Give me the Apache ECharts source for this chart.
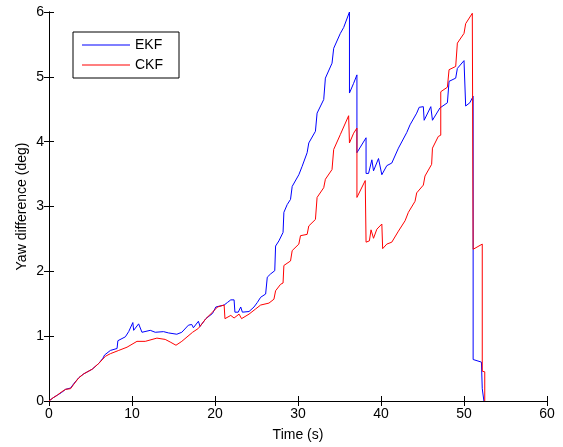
<!DOCTYPE html>
<html><head><meta charset="utf-8">
<script src="https://cdn.jsdelivr.net/npm/echarts@6/dist/echarts.min.js"></script>
<style>html,body{margin:0;padding:0;background:#fff}#c{width:563px;height:447px}</style>
</head><body><div id="c"></div>
<script>
const xTicks = [0, 10, 20, 30, 40, 50, 60];
const yTicks = [0, 1, 2, 3, 4, 5, 6];
const ekfTime = [0,0.5,1,1.5,2,2.6,3,3.6,4.2,5.2,6,6.5,6.7,7.4,8.2,8.3,9.2,9.6,10.1,10.2,10.3,10.8,11.0,11.2,12.2,12.8,13.8,14.4,15.4,16.0,16.8,17.2,17.4,18.0,18.2,18.9,19.7,20.1,21.1,21.5,21.9,22.3,22.4,22.8,23.1,23.3,24.1,24.7,25.1,25.5,26.1,26.3,26.7,27.2,27.3,27.7,28.2,28.3,28.7,29.1,29.3,30.1,30.5,31.1,31.3,32.1,32.3,33.1,33.3,34.1,34.3,35.1,35.5,36.2,36.2,36.7,37.1,37.1,38.2,38.2,38.5,38.9,39.1,39.7,40.1,40.7,41.3,42.1,43.1,43.5,44.3,44.6,45.1,45.2,46.0,46.2,47.1,48.0,48.2,49.0,49.2,50.0,50.2,50.7,51.1,51.1,52.1,52.2,52.2,52.4,52.4];
const ekfYaw = [0,0.05,0.09,0.13,0.18,0.2,0.27,0.36,0.42,0.49,0.58,0.66,0.71,0.78,0.81,0.93,0.99,1.07,1.21,1.09,1.10,1.19,1.20,1.06,1.09,1.06,1.07,1.05,1.03,1.06,1.17,1.18,1.13,1.23,1.15,1.27,1.35,1.45,1.48,1.52,1.56,1.56,1.37,1.37,1.45,1.37,1.38,1.45,1.52,1.60,1.65,1.91,1.96,2.01,2.39,2.47,2.60,2.91,3.03,3.11,3.31,3.49,3.62,3.83,3.98,4.16,4.44,4.65,4.98,5.21,5.44,5.67,5.76,6.0,4.75,4.90,5.03,3.83,4.06,3.51,3.51,3.72,3.55,3.74,3.49,3.63,3.67,3.90,4.14,4.26,4.44,4.53,4.54,4.33,4.54,4.33,4.52,4.60,4.93,4.98,5.13,5.25,4.55,4.60,4.70,0.64,0.60,0.60,0.19,0.19,0];
const ckfTime = [0,0.5,1,1.5,2,2.6,3,3.6,4.2,5.2,6.0,6.8,7.4,8.4,9.4,10.6,11.6,13.0,14.0,14.6,15.3,16.0,17.3,18.0,18.9,19.7,20.3,21.1,21.2,21.9,22.3,22.9,23.2,24.1,24.9,25.5,26.5,27.1,27.3,27.9,28.2,28.3,29.1,29.3,30.1,30.3,31.1,31.3,32.1,32.3,33.1,33.3,34.1,34.3,35.1,36.1,36.2,36.7,37.1,37.1,38.1,38.2,38.6,38.8,39.1,39.5,40.1,40.2,40.7,41.3,42.1,42.9,43.3,44.1,44.3,45.1,45.3,46.1,46.2,46.9,47.2,47.2,48.0,48.2,49.0,49.2,50.0,50.2,51.0,51.1,51.1,52.2,52.2,52.5,52.5];
const ckfYaw = [0,0.05,0.09,0.14,0.18,0.19,0.26,0.36,0.42,0.49,0.58,0.69,0.73,0.78,0.83,0.92,0.92,0.97,0.95,0.91,0.86,0.92,1.06,1.12,1.27,1.37,1.45,1.48,1.27,1.32,1.28,1.34,1.27,1.34,1.42,1.48,1.51,1.57,1.70,1.80,1.82,2.09,2.16,2.32,2.42,2.55,2.57,2.70,2.80,3.14,3.29,3.42,3.57,3.88,4.11,4.40,3.98,4.13,4.21,3.14,3.40,2.45,2.47,2.64,2.51,2.65,2.73,2.35,2.42,2.45,2.62,2.78,2.91,3.08,3.21,3.33,3.47,3.65,3.90,4.08,4.10,4.77,4.84,5.11,5.16,5.52,5.67,5.82,5.98,6.0,2.34,2.42,0.46,0.45,0];
const seriesNames = ['EKF', 'CKF'];

const font = 'Liberation Sans, Arial, Helvetica, sans-serif';
const zip = (a, b) => a.map((v, i) => [v, b[i]]);
const chart = echarts.init(document.getElementById('c'), null, {renderer: 'canvas'});
const axisCommon = {
  type: 'value',
  axisLine: {show: true, lineStyle: {color: '#000', width: 1}},
  axisTick: {show: true, inside: true, length: 5, lineStyle: {color: '#000'}},
  splitLine: {show: false},
  nameMoveOverlap: false
};
chart.setOption({
  animation: false,
  backgroundColor: '#fff',
  grid: {left: 49, right: 16, top: 12, bottom: 45, containLabel: false},
  xAxis: [
    Object.assign({}, axisCommon, {min: xTicks[0], max: xTicks[xTicks.length-1], interval: 10,
      name: 'Time (s)', nameLocation: 'middle', nameGap: 27,
      nameTextStyle: {color: '#000', fontFamily: font, fontSize: 14},
      axisLabel: {color: '#000', fontFamily: font, fontSize: 14, margin: 6}}),
    Object.assign({}, axisCommon, {position: 'top', min: xTicks[0], max: xTicks[xTicks.length-1], interval: 10, axisLabel: {show: false}})
  ],
  yAxis: [
    Object.assign({}, axisCommon, {min: yTicks[0], max: yTicks[yTicks.length-1], interval: 1,
      name: 'Yaw difference (deg)', nameLocation: 'middle', nameGap: 20,
      nameTextStyle: {color: '#000', fontFamily: font, fontSize: 14},
      axisLabel: {color: '#000', fontFamily: font, fontSize: 14, margin: 5}}),
    Object.assign({}, axisCommon, {position: 'right', min: yTicks[0], max: yTicks[yTicks.length-1], interval: 1, axisLabel: {show: false}})
  ],
  legend: {
    data: seriesNames, orient: 'vertical', left: 73, top: 32,
    icon: 'rect',
    backgroundColor: '#fff', borderColor: '#000', borderWidth: 1, borderRadius: 0,
    padding: [6, 16, 6, 9], itemWidth: 48, itemHeight: 1, itemGap: 6,
    textStyle: {color: '#000', fontFamily: font, fontSize: 14}
  },
  series: [
    {name: seriesNames[0], type: 'line', data: zip(ekfTime, ekfYaw), symbol: 'none',
     lineStyle: {color: '#0000ff', width: 1}, itemStyle: {color: '#0000ff'}, z: 2},
    {name: seriesNames[1], type: 'line', data: zip(ckfTime, ckfYaw), symbol: 'none',
     lineStyle: {color: '#ff0000', width: 1}, itemStyle: {color: '#ff0000'}, z: 3}
  ]
});
</script></body></html>
